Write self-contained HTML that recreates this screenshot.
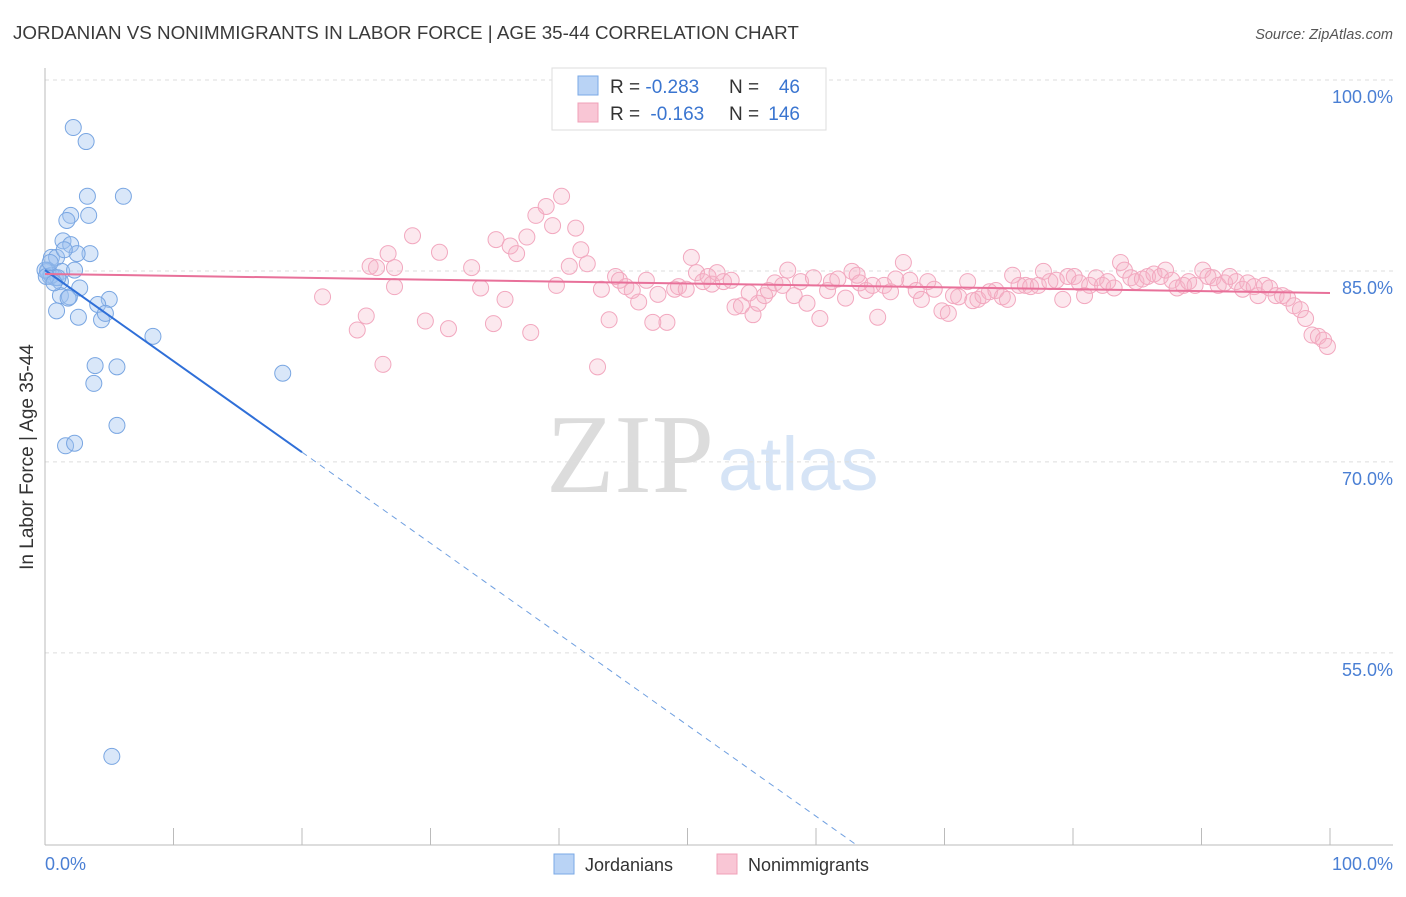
<!DOCTYPE html>
<html><head><meta charset="utf-8"><style>
body{margin:0;background:#fff;font-family:"Liberation Sans",sans-serif;}
svg text{font-family:"Liberation Sans",sans-serif;}
</style></head><body>
<svg id="chart" width="1406" height="892" xmlns="http://www.w3.org/2000/svg">
<text x="13" y="39" font-size="18.8" fill="#3a3a3a">JORDANIAN VS NONIMMIGRANTS IN LABOR FORCE | AGE 35-44 CORRELATION CHART</text>
<text x="1393" y="39" font-size="14.5" fill="#555" font-style="italic" text-anchor="end">Source: ZipAtlas.com</text>
<g>
<text x="714" y="492" font-size="112" fill="#dcdcdc" text-anchor="end" style="font-family:'Liberation Serif',serif">ZIP</text>
<text x="718" y="490" font-size="76" fill="#d6e4f6">atlas</text>
</g>
<g id="grid"></g>
<g id="axes"></g>
<g id="points"></g>
<g id="trends"></g>
<text x="33" y="457" font-size="19" fill="#333" text-anchor="middle" transform="rotate(-90 33 457)">In Labor Force | Age 35-44</text>
<text x="45" y="870" font-size="18" fill="#4a7fd4">0.0%</text>
<text x="1393" y="870" font-size="18" fill="#4a7fd4" text-anchor="end">100.0%</text>
<g>
<rect x="552" y="68" width="274" height="62" fill="#fff" stroke="#ddd"/>
<rect x="578" y="76" width="20" height="19" fill="#b9d3f5" stroke="#7aa8e6"/>
<rect x="578" y="103" width="20" height="19" fill="#f9c6d5" stroke="#f0a0b8"/>
<text x="610" y="93" font-size="19" fill="#333">R = <tspan fill="#3a75d0">-0.283</tspan></text>
<text x="729" y="93" font-size="19" fill="#333">N = </text><text x="800" y="93" font-size="19" fill="#3a75d0" text-anchor="end">46</text>
<text x="610" y="120" font-size="19" fill="#333">R = <tspan fill="#3a75d0" dx="5">-0.163</tspan></text>
<text x="729" y="120" font-size="19" fill="#333">N = </text><text x="800" y="120" font-size="19" fill="#3a75d0" text-anchor="end">146</text>
</g>
<g>
<rect x="554" y="854" width="20" height="20" fill="#b9d3f5" stroke="#7aa8e6"/>
<text x="585" y="871" font-size="18" fill="#333">Jordanians</text>
<rect x="717" y="854" width="20" height="20" fill="#f9c6d5" stroke="#f0a0b8"/>
<text x="748" y="871" font-size="18" fill="#333">Nonimmigrants</text>
</g>
</svg>
<script>
const yTicks=[100,85,70,55];
const yTickLabels=["100.0%","85.0%","70.0%","55.0%"];
const xTicks=[0,10,20,30,40,50,60,70,80,90,100];
const blueX=[2.2,3.2,3.3,6.1,2.0,3.4,1.7,1.4,2.0,3.5,2.5,0.5,0.9,0.2,1.3,2.3,0.4,0.8,1.2,2.7,1.2,1.9,5.0,0.9,2.6,4.1,4.4,4.7,8.4,18.5,3.9,5.6,3.8,5.6,1.6,2.3,5.2,0.2,0.5,1.0,0.0,0.1,0.7,0.4,1.5,1.8];
const blueY=[97.6,96.5,92.2,92.2,90.7,90.7,90.3,88.7,88.4,87.7,87.7,87.4,87.4,86.4,86.3,86.4,85.9,85.8,85.5,85.0,84.4,84.3,84.1,83.2,82.7,83.7,82.5,83.0,81.2,78.3,78.9,78.8,77.5,74.2,72.6,72.8,48.2,86.3,86.0,85.8,86.4,85.9,85.4,87.0,88.0,84.2];
const pinkX=[21.6,24.3,25.0,25.3,25.8,26.7,27.2,26.3,27.2,28.6,29.6,30.7,31.4,33.2,33.9,34.9,35.1,35.8,36.2,36.7,37.5,37.8,38.2,39.0,39.5,39.8,40.2,40.8,41.3,41.7,42.2,43.0,43.3,43.9,44.4,44.7,45.2,45.7,46.2,46.8,47.3,47.7,48.4,49.0,49.3,49.9,50.3,50.7,51.2,51.6,51.9,52.3,52.8,53.4,53.7,54.2,54.8,55.1,55.5,56.0,56.3,56.8,57.4,57.8,58.3,58.8,59.3,59.8,60.3,60.9,61.2,61.7,62.3,62.8,63.2,63.4,63.9,64.4,64.8,65.3,65.8,66.2,66.8,67.3,67.8,68.2,68.7,69.2,69.8,70.3,70.7,71.1,71.8,72.2,72.6,73.0,73.5,74.0,74.5,74.9,75.3,75.8,76.3,76.7,77.3,77.7,78.2,78.7,79.2,79.6,80.1,80.5,80.9,81.3,81.8,82.3,82.7,83.2,83.7,84.0,84.5,84.9,85.4,85.8,86.3,86.8,87.2,87.7,88.1,88.6,89.0,89.5,90.1,90.5,90.9,91.3,91.8,92.2,92.7,93.2,93.6,94.1,94.4,94.9,95.3,95.8,96.3,96.7,97.2,97.7,98.1,98.6,99.1,99.5,99.8];
const pinkY=[84.3,81.7,82.8,86.7,86.6,87.7,86.6,79.0,85.1,89.1,82.4,87.8,81.8,86.6,85.0,82.2,88.8,84.1,88.3,87.7,89.0,81.5,90.7,91.4,89.9,85.2,92.2,86.7,89.7,88.0,86.9,78.8,84.9,82.5,85.9,85.6,85.1,84.8,83.9,85.6,82.3,84.5,82.3,84.9,85.1,84.9,87.4,86.2,85.5,85.9,85.3,86.2,85.5,85.6,83.5,83.6,84.6,82.9,83.8,84.4,84.8,85.4,85.2,86.4,84.4,85.5,83.8,85.8,82.6,84.8,85.5,85.7,84.2,86.3,86.0,85.4,84.8,85.2,82.7,85.2,84.7,85.7,87.0,85.6,84.8,84.1,85.5,84.9,83.2,83.0,84.4,84.3,85.5,84.0,84.1,84.4,84.7,84.8,84.3,84.1,86.0,85.2,85.2,85.1,85.2,86.3,85.5,85.6,84.1,85.9,85.9,85.4,84.4,85.2,85.8,85.2,85.5,85.0,87.0,86.4,85.8,85.5,85.7,85.9,86.1,85.9,86.4,85.6,85.0,85.2,85.5,85.2,86.4,85.9,85.8,85.2,85.4,85.9,85.5,84.9,85.4,85.1,84.4,85.2,85.0,84.4,84.4,84.2,83.6,83.3,82.6,81.3,81.2,80.9,80.4];
const blueTrend=[86.4,14.9];
const pinkTrend=[86.1,84.6];
const NS="http://www.w3.org/2000/svg";
const X0=45,X1=1330,YTOP=97,PXPER=12.73;
function xs(v){return X0+(X1-X0)*v/100;}
function ys(v){return YTOP+(100-v)*PXPER;}
function mk(tag,attrs,parent){const e=document.createElementNS(NS,tag);for(const k in attrs)e.setAttribute(k,attrs[k]);document.getElementById(parent).appendChild(e);return e;}
yTicks.forEach((t,i)=>{
 const g=mk('line',{x1:45,x2:1393,y1:ys(t)-17,y2:ys(t)-17,stroke:'#ddd','stroke-dasharray':'4,4'},'grid');
 
 
 const l=mk('text',{x:1393,y:ys(t)+6,'font-size':18,fill:'#4a7fd4','text-anchor':'end'},'grid');
 l.textContent=yTickLabels[i];
 
 
});
const ax=mk('line',{x1:45,x2:45,y1:68,y2:845,stroke:'#bbb'},'axes');


const bx=mk('line',{x1:45,x2:1393,y1:845,y2:845,stroke:'#bbb'},'axes');


xTicks.forEach(t=>{
 const e=mk('line',{x1:xs(t),x2:xs(t),y1:828,y2:845,stroke:'#bbb'},'axes');
 
 
});
pinkX.forEach((v,i)=>{
 const c=mk('circle',{cx:xs(v),cy:ys(pinkY[i]),r:8,fill:'rgba(246,180,200,0.3)',stroke:'#f2a8bf','stroke-width':1},'points');
 
 
});
blueX.forEach((v,i)=>{
 const c=mk('circle',{cx:xs(v),cy:ys(blueY[i]),r:8,fill:'rgba(160,195,240,0.4)',stroke:'#79a6e2','stroke-width':1},'points');
 
 
});
const bAt=x=>blueTrend[0]+(blueTrend[1]-blueTrend[0])*x/100;
const bs=mk('line',{x1:xs(0),y1:ys(bAt(0)),x2:xs(20),y2:ys(bAt(20)),stroke:'#2f6fd8','stroke-width':2},'trends');


const yBottomVal=100-(845-YTOP)/PXPER;
const xEnd=(yBottomVal-blueTrend[0])/(blueTrend[1]-blueTrend[0])*100;
const bd=mk('line',{x1:xs(20),y1:ys(bAt(20)),x2:xs(xEnd),y2:845,stroke:'#6f9fe0','stroke-width':1,'stroke-dasharray':'6,5'},'trends');


const pl=mk('line',{x1:xs(0),y1:ys(pinkTrend[0]),x2:xs(100),y2:ys(pinkTrend[1]),stroke:'#e8719a','stroke-width':2},'trends');


</script>
</body></html>
